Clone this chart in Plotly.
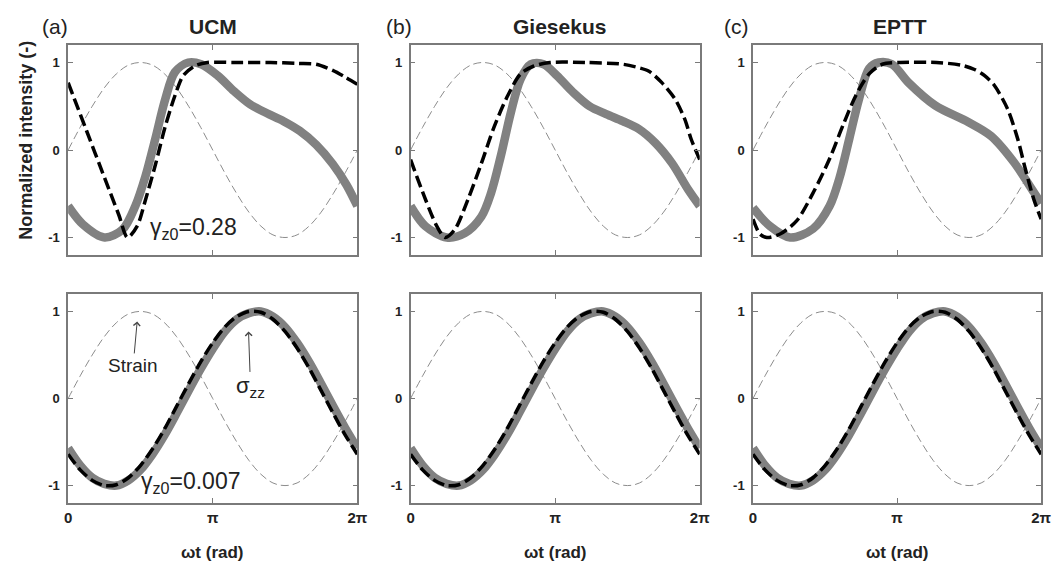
import numpy as np
import plotly.graph_objects as go

# ---------------- data ----------------
models = ["UCM", "Giesekus", "EPTT"]
panel_tags = ["(a)", "(b)", "(c)"]

# common phase grid (0 .. 2*pi in 15 deg steps)
grid_x = list(np.linspace(0, 2 * np.pi, 25))
strain_y = [0, 0.26, 0.50, 0.71, 0.87, 0.97, 1.0, 0.97, 0.87, 0.71, 0.50, 0.26, 0,
            -0.26, -0.50, -0.71, -0.87, -0.97, -1.0, -0.97, -0.87, -0.71, -0.50, -0.26, 0]

# small strain (gamma_z0 = 0.007): experiment (grey symbols) and model (black dashes)
lin_exp_y = [-0.57, -0.77, -0.91, -0.98, -1.0, -0.94, -0.82, -0.64, -0.42, -0.17, 0.09, 0.34, 0.57,
             0.77, 0.91, 0.98, 1.0, 0.94, 0.82, 0.64, 0.42, 0.17, -0.09, -0.34, -0.57]
lin_model_y = [-0.64, -0.82, -0.94, -1.0, -0.99, -0.91, -0.77, -0.58, -0.35, -0.09, 0.17, 0.42, 0.64,
               0.82, 0.94, 1.0, 0.99, 0.91, 0.77, 0.58, 0.35, 0.09, -0.17, -0.42, -0.64]

# large strain (gamma_z0 = 0.28)
ucm_exp_x = [0, 0.32, 0.79, 1.18, 1.46, 1.68, 1.89, 2.11, 2.32, 2.61, 2.89, 3.25, 3.61, 3.96, 4.32,
             4.68, 5.03, 5.39, 5.75, 6.05, 6.283]
ucm_exp_y = [-0.64, -0.85, -1.0, -0.91, -0.64, -0.30, 0.12, 0.58, 0.89, 1.0, 0.98, 0.85, 0.67, 0.52, 0.42,
             0.33, 0.22, 0.06, -0.16, -0.40, -0.64]
ucm_model_x = [0, 0.40, 0.80, 1.10, 1.29, 1.50, 1.68, 1.89, 2.11, 2.32, 2.50, 2.75, 3.03, 3.6, 4.4,
               5.0, 5.39, 5.75, 6.03, 6.283]
ucm_model_y = [0.77, 0.22, -0.33, -0.74, -1.0, -0.87, -0.57, -0.18, 0.27, 0.62, 0.85, 0.96, 1.0, 1.0, 1.0,
               0.99, 0.98, 0.91, 0.83, 0.75]

gie_exp_x = [0, 0.32, 0.785, 1.18, 1.54, 1.75, 1.96, 2.18, 2.39, 2.61, 2.89, 3.18, 3.53, 3.89, 4.25,
             4.61, 4.96, 5.32, 5.68, 6.03, 6.283]
gie_exp_y = [-0.64, -0.87, -1.0, -0.95, -0.76, -0.49, -0.07, 0.43, 0.81, 0.98, 0.98, 0.85, 0.66, 0.50, 0.41,
             0.33, 0.24, 0.08, -0.15, -0.45, -0.64]
gie_model_x = [0, 0.32, 0.57, 0.75, 0.96, 1.25, 1.54, 1.82, 2.11, 2.39, 2.68, 3.03, 3.8, 4.61, 4.96,
               5.18, 5.46, 5.75, 5.96, 6.10, 6.283]
gie_model_y = [-0.11, -0.56, -0.87, -1.0, -0.91, -0.56, -0.15, 0.27, 0.62, 0.87, 0.96, 1.0, 1.0, 0.98, 0.94,
               0.90, 0.77, 0.58, 0.35, 0.12, -0.11]

eptt_exp_x = [0, 0.37, 0.81, 1.31, 1.67, 1.88, 2.10, 2.31, 2.53, 2.74, 3.03, 3.39, 3.97, 4.69, 5.19,
              5.69, 6.12, 6.283]
eptt_exp_y = [-0.66, -0.87, -1.0, -0.90, -0.64, -0.33, 0.13, 0.58, 0.93, 1.0, 0.98, 0.77, 0.51, 0.32, 0.16,
              -0.14, -0.48, -0.61]
eptt_model_x = [0, 0.15, 0.30, 0.59, 0.95, 1.31, 1.67, 1.96, 2.24, 2.53, 2.82, 3.2, 4.0, 4.54, 4.83,
                5.05, 5.26, 5.55, 5.77, 5.94, 6.12, 6.283]
eptt_model_y = [-0.79, -0.96, -1.0, -0.96, -0.81, -0.49, -0.10, 0.28, 0.62, 0.87, 0.98, 1.0, 1.0, 0.97, 0.92,
                0.85, 0.74, 0.47, 0.13, -0.22, -0.56, -0.79]

top_exp = [(ucm_exp_x, ucm_exp_y), (gie_exp_x, gie_exp_y), (eptt_exp_x, eptt_exp_y)]
top_model = [(ucm_model_x, ucm_model_y), (gie_model_x, gie_model_y), (eptt_model_x, eptt_model_y)]

x_tickvals = [0, np.pi, 2 * np.pi]
x_ticktext = ["0", "π", "2π"]
y_tickvals = [-1, 0, 1]
y_ticktext = ["-1", "0", "1"]

# ---------------- layout geometry (pixels) ----------------
W, H = 1064, 561
col_px = [(65, 358), (412, 705), (759, 1051)]
row_px = [(45, 255), (294, 503)]  # top row, bottom row

FONT = "Arial, Liberation Sans, sans-serif"
TXT = "#222222"
AX = "#7a7a7a"
GREY = "#818181"

fig = go.Figure()


def dom_x(c):
    return [col_px[c][0] / W, col_px[c][1] / W]


def dom_y(r):
    return [1 - row_px[r][1] / H, 1 - row_px[r][0] / H]


for r in range(2):
    for c in range(3):
        idx = r * 3 + c + 1
        xa = "x" if idx == 1 else f"x{idx}"
        ya = "y" if idx == 1 else f"y{idx}"
        # strain
        fig.add_trace(go.Scatter(x=grid_x, y=strain_y, mode="lines", xaxis=xa, yaxis=ya,
                                 line=dict(color="#8c8c8c", width=1, dash="8px,4px", shape="spline"),
                                 showlegend=False, hoverinfo="skip"))
        if r == 0:
            ex, ey = top_exp[c]
            mx, my = top_model[c]
        else:
            ex, ey = grid_x, lin_exp_y
            mx, my = grid_x, lin_model_y
        # experiment (thick grey band of symbols)
        fig.add_trace(go.Scatter(x=ex, y=ey, mode="lines", xaxis=xa, yaxis=ya,
                                 line=dict(color=GREY, width=8.5, shape="spline", smoothing=0.9),
                                 showlegend=False, hoverinfo="skip"))
        # model (thick black dashes)
        fig.add_trace(go.Scatter(x=mx, y=my, mode="lines", xaxis=xa, yaxis=ya,
                                 line=dict(color="black", width=3.5, dash="12px,5px", shape="spline",
                                           smoothing=0.8),
                                 showlegend=False, hoverinfo="skip"))

        xkey = "xaxis" if idx == 1 else f"xaxis{idx}"
        ykey = "yaxis" if idx == 1 else f"yaxis{idx}"
        fig.layout[xkey] = dict(domain=dom_x(c), anchor=ya, range=[0, 2 * np.pi],
                                showgrid=False, zeroline=False, showline=True, mirror="ticks",
                                linecolor=AX, linewidth=1.5, ticks="inside", ticklen=5,
                                tickcolor=AX, tickwidth=1.2,
                                tickvals=x_tickvals, ticktext=x_ticktext,
                                showticklabels=(r == 1),
                                tickfont=dict(family=FONT, size=15, color=TXT, weight="bold"))
        fig.layout[ykey] = dict(domain=dom_y(r), anchor=xa, range=[-1.2, 1.2],
                                showgrid=False, zeroline=False, showline=True, mirror="ticks",
                                linecolor=AX, linewidth=1.5, ticks="inside", ticklen=5,
                                tickcolor=AX, tickwidth=1.2,
                                tickvals=y_tickvals, ticktext=y_ticktext, ticklabelstandoff=4,
                                tickfont=dict(family=FONT, size=13, color=TXT, weight="bold"))

annotations = []
title_cx = [212, 563, 908]
tag_cx = [52, 400, 742]
C = dict(xanchor="center", yanchor="middle")
for c in range(3):
    annotations.append(dict(text=f"<b>{models[c]}</b>", x=title_cx[c] / W, y=1 - 27 / H,
                            xref="paper", yref="paper", showarrow=False, **C,
                            font=dict(family=FONT, size=21, color=TXT)))
    annotations.append(dict(text=panel_tags[c], x=tag_cx[c] / W, y=1 - 27 / H,
                            xref="paper", yref="paper", showarrow=False, **C,
                            font=dict(family=FONT, size=21, color=TXT)))
    cx = (col_px[c][0] + col_px[c][1]) / 2
    annotations.append(dict(text="<b>ωt (rad)</b>", x=cx / W, y=1 - 552 / H,
                            xref="paper", yref="paper", showarrow=False, **C,
                            font=dict(family=FONT, size=17, color=TXT)))

annotations.append(dict(text="<b>Normalized intensity (-)</b>", x=22 / W, y=1 - 140 / H,
                        xref="paper", yref="paper", showarrow=False, textangle=-90, **C,
                        font=dict(family=FONT, size=18, color=TXT)))
annotations.append(dict(text="γ<sub>z0</sub>=0.28", x=2.72, y=-0.90, xref="x", yref="y",
                        showarrow=False, **C, font=dict(family=FONT, size=23, color=TXT)))
annotations.append(dict(text="γ<sub>z0</sub>=0.007", x=2.68, y=-0.96, xref="x4", yref="y4",
                        showarrow=False, **C, font=dict(family=FONT, size=23, color=TXT)))
annotations.append(dict(text="Strain", x=1.50, y=0.885, xref="x4", yref="y4",
                        showarrow=True, ax=-4, ay=44, arrowhead=4, arrowsize=1.3, arrowwidth=1,
                        arrowcolor="#444444", font=dict(family=FONT, size=19, color=TXT)))
annotations.append(dict(text="σ<sub>zz</sub>", x=3.92, y=0.77, xref="x4", yref="y4",
                        showarrow=True, ax=2, ay=56, arrowhead=4, arrowsize=1.3, arrowwidth=1,
                        arrowcolor="#444444", font=dict(family=FONT, size=22, color=TXT)))

fig.update_layout(width=W, height=H, margin=dict(l=0, r=0, t=0, b=0),
                  paper_bgcolor="white", plot_bgcolor="white",
                  annotations=annotations, showlegend=False)

fig.write_html("out.html")
